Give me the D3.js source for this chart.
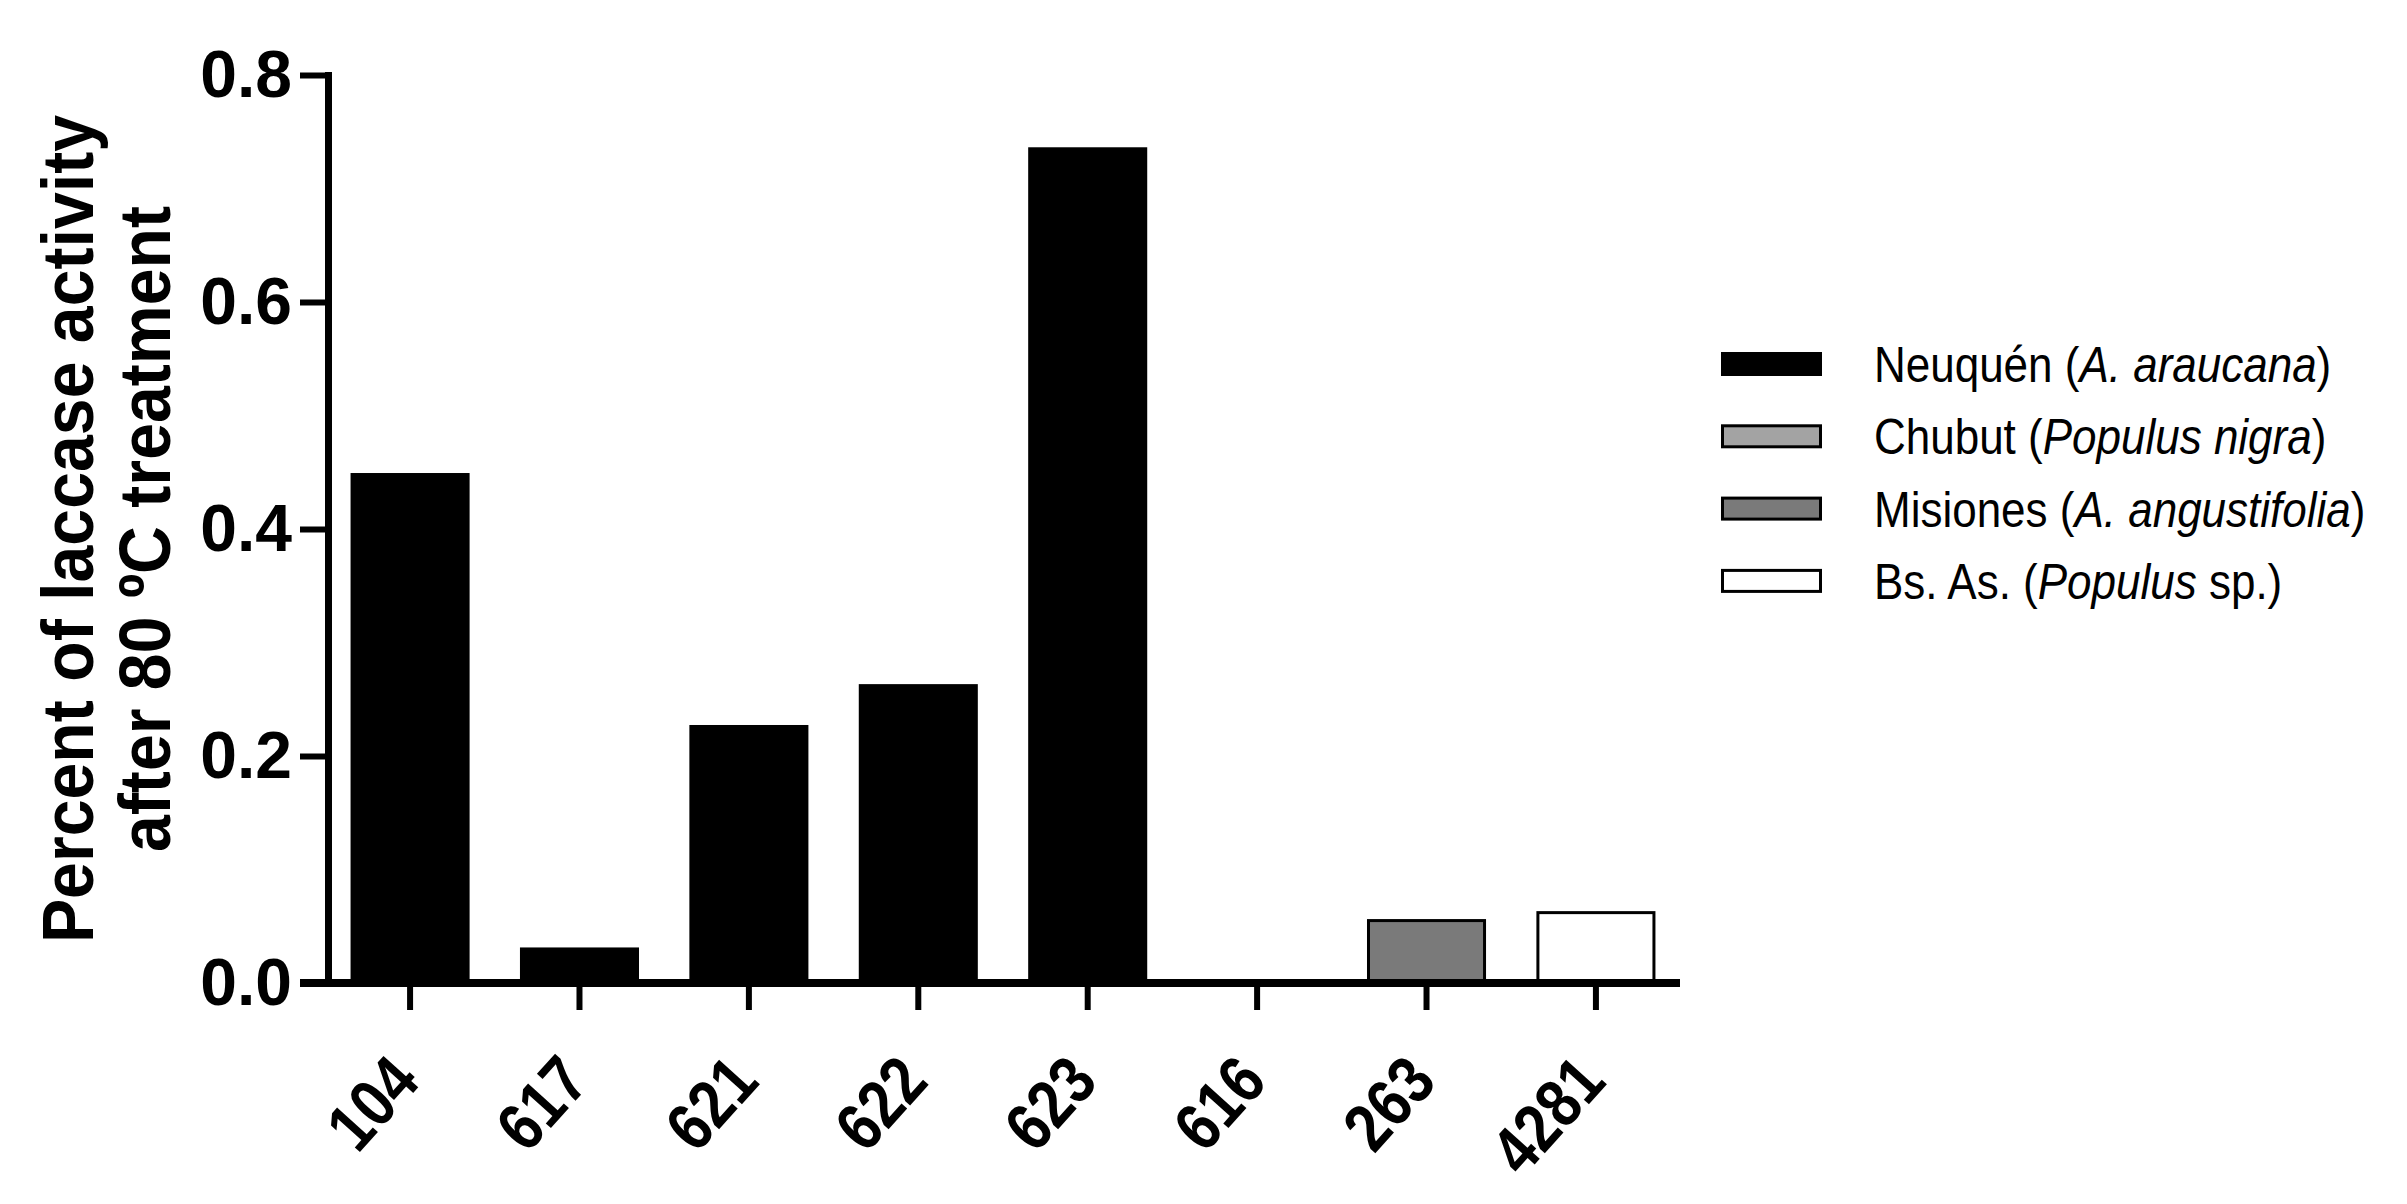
<!DOCTYPE html>
<html>
<head>
<meta charset="utf-8">
<script src="https://cdn.jsdelivr.net/npm/d3@7"></script>
<style>
    body { margin: 0; background: #fff; }
    svg { display: block; font-family: "Liberation Sans", Arial, sans-serif; }
</style>
</head>
<body>
<div id="chart"></div>
<script>
const STRAINS = ["104", "617", "621", "622", "623", "616", "263", "4281"];
const ACTIVITY = [0.448, 0.030, 0.226, 0.262, 0.735, 0.002, 0.055, 0.062];
const REGION_OF_STRAIN = [0, 0, 0, 0, 0, 1, 2, 3];
const Y_TICKS = [0.0, 0.2, 0.4, 0.6, 0.8];

const REGIONS = ["Neuquén", "Chubut", "Misiones", "Bs. As."];
const REGION_HOSTS = ["A. araucana", "Populus nigra", "A. angustifolia", "Populus"];
const REGION_SUFFIX = [")", ")", ")", " sp.)"];
const REGION_COLORS = ["#000000", "#a3a3a3", "#7a7a7a", "#ffffff"];

function drawChart() {
    const width = 2407;
    const height = 1204;
    const axisX = 328;
    const top = 75;
    const bottom = 983;

    const svg = d3.select("#chart")
                  .append("svg")
                  .attr("width", width)
                  .attr("height", height);

    const x = d3.scaleBand()
                .domain(STRAINS)
                .range([axisX, 1678])
                .paddingInner(0.315)
                .paddingOuter(0.142);

    const y = d3.scaleLinear()
                .domain([0, 0.8])
                .range([bottom, top]);

    // bars
    svg.selectAll("rect.bar")
       .data(STRAINS)
       .enter()
       .append("rect")
       .attr("class", "bar")
       .attr("x", function (d) { return x(d); })
       .attr("y", function (d, i) { return y(ACTIVITY[i]); })
       .attr("width", x.bandwidth())
       .attr("height", function (d, i) { return bottom - y(ACTIVITY[i]); })
       .attr("fill", function (d, i) { return REGION_COLORS[REGION_OF_STRAIN[i]]; })
       .attr("stroke", "#000")
       .attr("stroke-width", 3);

    // y axis
    const yAxis = svg.append("g")
                     .attr("transform", "translate(" + axisX + ",0)")
                     .call(d3.axisLeft(y)
                             .tickValues(Y_TICKS)
                             .tickFormat(d3.format(".1f"))
                             .tickSize(28)
                             .tickPadding(8)
                             .tickSizeOuter(0));
    yAxis.select(".domain")
         .attr("stroke-width", 7)
         .attr("stroke-linecap", "square");
    yAxis.selectAll(".tick line")
         .attr("stroke-width", 6);
    yAxis.selectAll(".tick text")
         .attr("font-size", 66)
         .attr("font-weight", "bold")
         .attr("fill", "#000")
         .attr("font-family", "'Liberation Sans', Arial, sans-serif");

    // x axis
    const xAxis = svg.append("g")
                     .attr("transform", "translate(0," + bottom + ")")
                     .call(d3.axisBottom(x)
                             .tickSize(27)
                             .tickSizeOuter(0));
    xAxis.select(".domain")
         .attr("d", "M300,0H1680")
         .attr("stroke-width", 8);
    xAxis.selectAll(".tick line")
         .attr("stroke-width", 6);
    xAxis.selectAll(".tick text")
         .attr("font-size", 68)
         .attr("font-weight", "bold")
         .attr("fill", "#000")
         .attr("font-family", "'Liberation Sans', Arial, sans-serif")
         .attr("y", 0)
         .attr("dy", 0)
         .attr("text-anchor", "end")
         .attr("transform", "translate(12,100)rotate(-48)scale(0.85,1)");

    // y axis title
    const title = svg.append("text")
                     .attr("transform", "translate(93," + ((top + bottom) / 2) + ")rotate(-90)scale(0.92,1)")
                     .attr("text-anchor", "middle")
                     .attr("font-size", 72)
                     .attr("font-weight", "bold");
    title.append("tspan")
         .attr("x", 0)
         .attr("y", 0)
         .text("Percent of laccase activity");
    title.append("tspan")
         .attr("x", 0)
         .attr("y", 77)
         .text("after 80 ºC treatment");

    // legend
    const legend = svg.append("g")
                      .attr("transform", "translate(1721,364)");
    const rows = legend.selectAll("g")
                       .data(REGIONS)
                       .enter()
                       .append("g")
                       .attr("transform", function (d, i) { return "translate(0," + (i * 72.3) + ")"; });
    rows.append("rect")
        .attr("x", 1.5)
        .attr("y", -10.5)
        .attr("width", 98)
        .attr("height", 21)
        .attr("fill", function (d, i) { return REGION_COLORS[i]; })
        .attr("stroke", "#000")
        .attr("stroke-width", 3);
    const label = rows.append("text")
                      .attr("transform", "translate(153,18)scale(0.88,1)")
                      .attr("font-size", 50)
                      .attr("fill", "#000");
    label.append("tspan")
         .text(function (d) { return d + " ("; });
    label.append("tspan")
         .attr("font-style", "italic")
         .text(function (d, i) { return REGION_HOSTS[i]; });
    label.append("tspan")
         .text(function (d, i) { return REGION_SUFFIX[i]; });
}

drawChart();
</script>
</body>
</html>
